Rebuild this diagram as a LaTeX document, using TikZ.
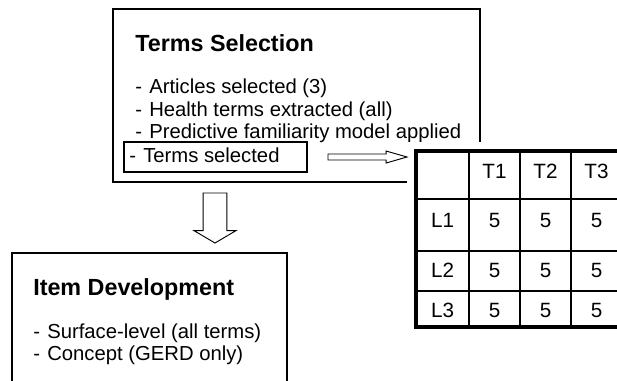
\documentclass[tikz,border=0pt]{standalone}
\usepackage{fontspec}
\setmainfont{Liberation Sans}
\usepackage{tikz}
\usetikzlibrary{calc}
\usetikzlibrary{shapes.arrows}

\newcommand{\dashitem}{\makebox[10.5pt][l]{-}}

\tikzset{
    panel/.style       = {draw=black, line width=0.9pt, fill=white, inner sep=0pt, outer sep=0pt, anchor=north west},
    heading/.style     = {font=\fontsize{17.5}{21}\selectfont\bfseries, inner sep=0pt, anchor=base west},
    bullet/.style      = {font=\fontsize{15.2}{18}\selectfont, inner sep=0pt, anchor=base west},
    cell/.style        = {font=\fontsize{15.5}{18}\selectfont, inner sep=0pt, anchor=base},
    hollowarrow/.style = {single arrow, draw=black, line width=0.7pt, fill=white, inner sep=0pt, outer sep=0pt, anchor=tail}
}

\begin{document}
\begin{tikzpicture}[x=0.75pt, y=-0.75pt]
            \useasboundingbox (0,0) rectangle (617,380);
            \clip             (0,0) rectangle (617,380);
            % Terms Selection
            \node[panel, minimum width=275.25pt, minimum height=129.75pt] (selBox)     at (113,   9) {};
            \node[heading]                                                (selHead)    at (135,  51) {Terms Selection};
            \node[bullet]                                                 (selArticle) at (135,  93) {\dashitem Articles selected (3)};
            \node[bullet]                                                 (selHealth)  at (135, 116) {\dashitem Health terms extracted (all)};
            \node[bullet]                                                 (selModel)   at (135, 138) {\dashitem Predictive familiarity model applied};
            \node[panel, minimum width=137.25pt, minimum height=22.5pt]   (termsBox)   at (124, 142) {};
            \node[bullet]                                                 (termsTxt)   at (129, 162) {\dashitem Terms selected};
            % Item Development
            \node[panel, minimum width=206.25pt, minimum height=125.25pt] (itemBox)    at ( 12, 253) {};
            \node[heading]                                                (itemHead)   at ( 33, 295) {Item Development};
            \node[bullet]                                                 (itemSurf)   at ( 33, 338) {\dashitem Surface-level (all terms)};
            \node[bullet]                                                 (itemConc)   at ( 33, 360) {\dashitem Concept (GERD only)};
            % Table of scores
            \fill[white]                                                                   (407, 142) rectangle (630, 337);
            \node[panel, line width=2.3pt, minimum width=155.25pt, minimum height=132pt] (tbl) at (416, 151) {};
            \draw[line width=1.3pt] (469, 151) -- (469, 327);
            \draw[line width=1.3pt] (520, 151) -- (520, 327);
            \draw[line width=1.3pt] (571, 151) -- (571, 327);
            \draw[line width=1.3pt] (416, 199) -- (623, 199);
            \draw[line width=1.3pt] (416, 251) -- (623, 251);
            \draw[line width=1.3pt] (416, 291) -- (623, 291);
            \node[cell] (hT1) at (494.5, 178) {T1};
            \node[cell] (hT2) at (545.5, 178) {T2};
            \node[cell] (hT3) at (596.5, 178) {T3};
            \node[cell] (rL1) at (442.5, 227) {L1};
            \node[cell] (c11) at (494.5, 227) {5};
            \node[cell] (c12) at (545.5, 227) {5};
            \node[cell] (c13) at (596.5, 227) {5};
            \node[cell] (rL2) at (442.5, 277) {L2};
            \node[cell] (c21) at (494.5, 277) {5};
            \node[cell] (c22) at (545.5, 277) {5};
            \node[cell] (c23) at (596.5, 277) {5};
            \node[cell] (rL3) at (442.5, 317) {L3};
            \node[cell] (c31) at (494.5, 317) {5};
            \node[cell] (c32) at (545.5, 317) {5};
            \node[cell] (c33) at (596.5, 317) {5};
            % Block arrows
            \node[hollowarrow, inner ysep=1.9pt, minimum height=59.25pt, minimum width=8.25pt, single arrow head extend=2.25pt, single arrow tip angle=32]
                 (arrRight) at ($(termsBox.east)+(21,0)$) {};
            \node[hollowarrow, inner xsep=8.6pt, shape border rotate=270, minimum height=37.5pt, minimum width=30.75pt, single arrow head extend=6.75pt, single arrow tip angle=119]
                 (arrDown)  at ($(selBox.south west)+(102,11)$) {};
\end{tikzpicture}
\end{document}
